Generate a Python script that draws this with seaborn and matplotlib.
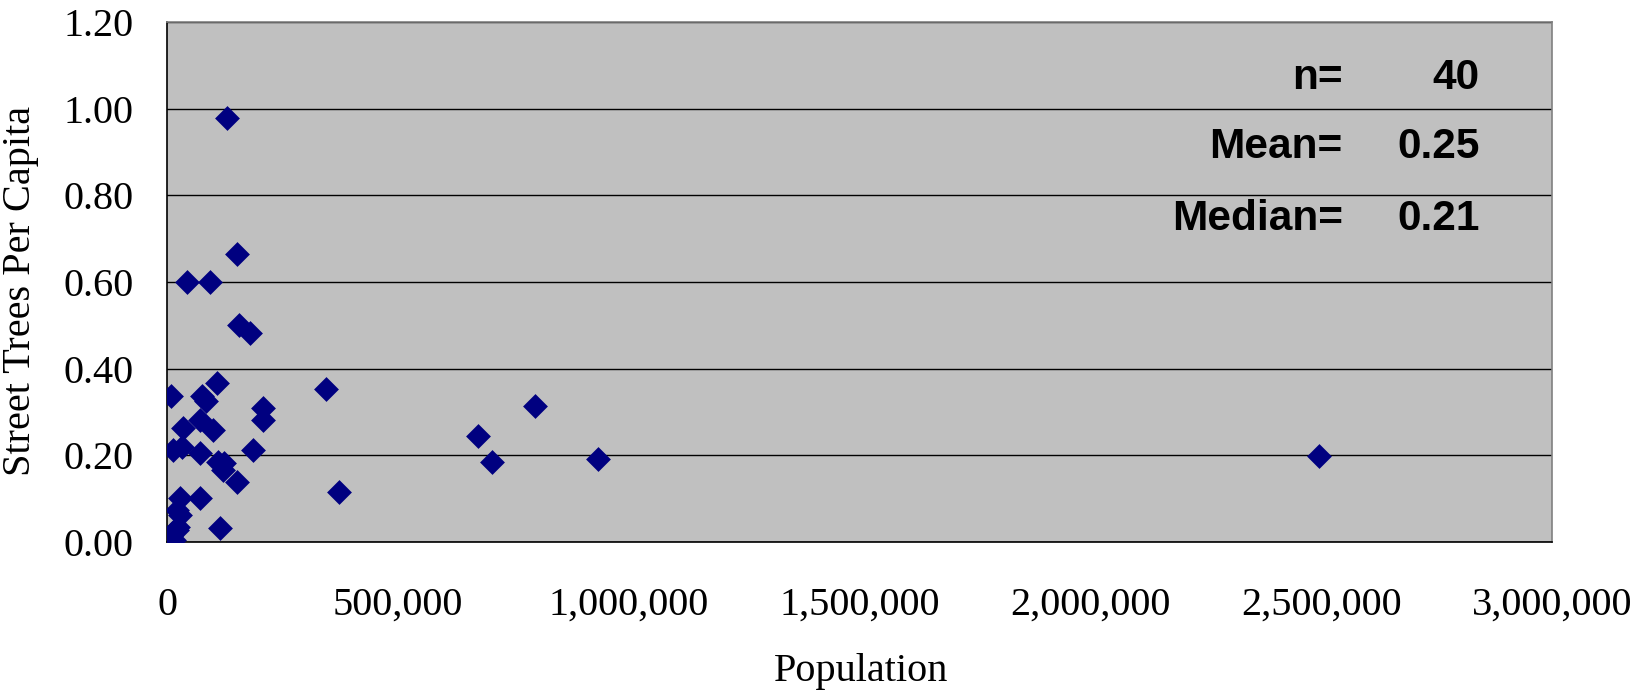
import matplotlib
matplotlib.use("Agg")
import matplotlib.pyplot as plt
import seaborn as sns
import pandas as pd

# ---- data ----
population = [128700, 150300, 42000, 92500, 156000, 179000, 7300, 107000, 74500, 83800,
              208000, 208000, 70800, 99700, 34700, 13000, 31000, 70800, 186000, 110500,
              122800, 121000, 150000, 343800, 372600, 70800, 27500, 20300, 27500, 24000,
              20300, 114000, 7300, 14500, 673700, 702800, 796600, 932400, 2495000, 10000]
trees_per_capita = [0.98, 0.665, 0.60, 0.60, 0.50, 0.482, 0.336, 0.367, 0.336, 0.325,
                    0.31, 0.281, 0.282, 0.259, 0.262, 0.213, 0.219, 0.205, 0.213, 0.185,
                    0.182, 0.165, 0.137, 0.352, 0.114, 0.10, 0.102, 0.073, 0.062, 0.035,
                    0.027, 0.031, 0.013, 0.004, 0.244, 0.183, 0.313, 0.19, 0.199, 0.02]
x_ticks = [0, 500000, 1000000, 1500000, 2000000, 2500000, 3000000]
x_tick_labels = ["0", "500,000", "1,000,000", "1,500,000", "2,000,000", "2,500,000", "3,000,000"]
y_ticks = [0.0, 0.2, 0.4, 0.6, 0.8, 1.0, 1.2]
y_tick_labels = ["0.00", "0.20", "0.40", "0.60", "0.80", "1.00", "1.20"]
stat_labels = ["n=", "Mean=", "Median="]
stat_values = ["40", "0.25", "0.21"]

df = pd.DataFrame({"Population": population, "Street Trees Per Capita": trees_per_capita})

sns.set_style("white")
plt.rcParams["font.family"] = ["Liberation Serif", "DejaVu Serif"]
plt.rcParams["text.color"] = "black"
plt.rcParams["xtick.color"] = "black"
plt.rcParams["ytick.color"] = "black"

W, H = 1631, 692
fig = plt.figure(figsize=(W / 100, H / 100), dpi=100)
fig.patch.set_facecolor("white")
left, right, top, bottom = 167.3, 1552.3, 22.3, 541.7
ax = fig.add_axes([left / W, 1 - bottom / H, (right - left) / W, (bottom - top) / H])
ax.set_facecolor("#C0C0C0")

sns.scatterplot(data=df, x="Population", y="Street Trees Per Capita", ax=ax,
                marker="D", s=160, color="#000080", linewidth=0, zorder=3)

ax.set_xlim(0, 3000000)
ax.set_ylim(0, 1.2)
ax.set_xticks(x_ticks)
ax.set_xticklabels(x_tick_labels)
ax.set_yticks(y_ticks)
ax.set_yticklabels(y_tick_labels)
ax.yaxis.grid(True, color="black", linewidth=1.0, zorder=1)
ax.xaxis.grid(False)
ax.set_axisbelow(True)

for side in ["top", "right"]:
    ax.spines[side].set_color("#808080")
    ax.spines[side].set_linewidth(1.2)
for side in ["left", "bottom"]:
    ax.spines[side].set_color("black")
    ax.spines[side].set_linewidth(1.2)

ax.tick_params(axis="both", direction="out", length=9.4, width=1.0, color="black",
               labelsize=29, labelcolor="black")
ax.tick_params(axis="y", pad=15)
ax.tick_params(axis="x", pad=23)
ax.set_xlabel("")
ax.set_ylabel("")

fig.text(21 / W, 1 - 291 / H, "Street Trees Per Capita", rotation=90, ha="center", va="center",
         fontsize=29, color="black")
fig.text(861 / W, 1 - 681 / H, "Population", ha="center", va="baseline", fontsize=29,
         color="black")

baselines = [89.3, 158.3, 230]
for lab, val, yb in zip(stat_labels, stat_values, baselines):
    fig.text(1342.7 / W, 1 - yb / H, lab, ha="right", va="baseline", fontsize=30.5,
             fontweight="bold", color="black", family=["Liberation Sans", "DejaVu Sans"])
    fig.text(1480 / W, 1 - yb / H, val, ha="right", va="baseline", fontsize=30.5,
             fontweight="bold", color="black", family=["Liberation Sans", "DejaVu Sans"])

fig.savefig("out.png", dpi=100)
